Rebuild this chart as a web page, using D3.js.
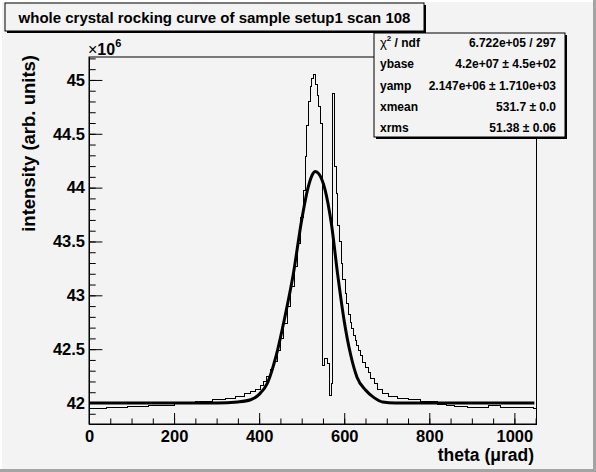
<!DOCTYPE html>
<html>
<head>
<meta charset="utf-8">
<script src="https://cdn.jsdelivr.net/npm/d3@7"></script>
<style>
  html, body { margin: 0; padding: 0; background: #f3f3f3; }
  svg { display: block; }
  text { font-family: "Liberation Sans", Arial, Helvetica, sans-serif; font-weight: bold; fill: #000; }
</style>
</head>
<body>
<div id="chart"></div>
<script>
// histogram of the scan: bin edges (urad) and bin contents (x1e6)
const binEdges = [0, 40, 90, 140, 200, 250, 290, 320, 345, 365, 380, 392, 402, 410, 418, 426, 434, 442,
  450, 458, 466, 474, 482, 490, 498, 504, 508, 512, 516, 520, 524, 528, 532, 536, 540, 544, 549, 553,
  561, 565, 569, 573, 577, 581, 585, 589, 593, 597, 602, 606, 610, 614, 618, 622, 626, 630, 634, 638,
  644, 650, 656, 662, 670, 678, 690, 705, 725, 750, 780, 820, 840, 860, 890, 940, 968, 1045, 1052]
const binValues = [41.951, 41.958, 41.966, 41.978, 41.995, 42.015, 42.03, 42.045, 42.065, 42.085,
  42.105, 42.13, 42.16, 42.2, 42.25, 42.31, 42.39, 42.49, 42.6, 42.74, 42.9, 43.08, 43.27, 43.48,
  43.72, 43.97, 44.29, 44.58, 44.8, 44.94, 45.01, 45.05, 44.96, 44.86, 44.75, 44.6,
  42.35, 42.41, 42.37, 42.07, 42.18, 44.875, 44.2, 43.95, 43.65, 43.5, 43.3, 43.15, 43.02, 42.92,
  42.82, 42.75, 42.69, 42.63, 42.58, 42.53, 42.49, 42.44, 42.38, 42.33, 42.28, 42.23, 42.18, 42.13,
  42.09, 42.065, 42.045, 42.03, 42.012, 41.99, 41.98, 41.97, 41.957, 41.98, 41.957, 41.947]

// fitted curve
const fitX = [0, 300, 350, 380, 400, 420, 440, 460, 480, 500, 515, 525, 532, 540, 555, 570, 585,
  600, 615, 630, 650, 670, 690, 720, 1047]
const fitY = [42.0, 42.0, 42.01, 42.03, 42.08, 42.19, 42.44, 42.79, 43.19, 43.70, 44.0, 44.12, 44.15,
  44.13, 43.98, 43.66, 43.18, 42.76, 42.45, 42.24, 42.12, 42.05, 42.01, 42.0, 42.0]

const xTicks = [0, 200, 400, 600, 800, 1000]
const xMinorTicks = d3.range(0, 1051, 50)
const yTicks = [42, 42.5, 43, 43.5, 44, 44.5, 45]
const yTickLabels = ["42", "42.5", "43", "43.5", "44", "44.5", "45"]
const yMinorTicks = d3.range(41.9, 45.21, 0.1)

const statLabels = ["ndf", "ybase", "yamp", "xmean", "xrms"]
const statValues = ["6.722e+05 / 297", "4.2e+07 \u00b1 4.5e+02", "2.147e+06 \u00b1 1.710e+03",
  "531.7 \u00b1 0.0", "51.38 \u00b1 0.06"]

const titleText = "whole crystal rocking curve of sample setup1 scan 108"

const width = 596
const height = 472
const frame = { left: 89, right: 536.5, top: 57, bottom: 424 }

const svg = d3.select("#chart")
    .append("svg")
    .attr("width", width)
    .attr("height", height)

// canvas with bevel
svg.append("rect").attr("width", width).attr("height", height).attr("fill", "#f3f3f3")
svg.append("rect").attr("x", width - 3).attr("y", 0).attr("width", 3).attr("height", height).attr("fill", "#a4a4a4")
svg.append("rect").attr("x", 0).attr("y", height - 3).attr("width", width).attr("height", 3).attr("fill", "#a4a4a4")
svg.append("rect").attr("x", 0).attr("y", 0).attr("width", 2).attr("height", height - 3).attr("fill", "#ffffff")
svg.append("rect").attr("x", 0).attr("y", 0).attr("width", width - 3).attr("height", 2).attr("fill", "#ffffff")

const x = d3.scaleLinear().domain([0, 1052]).range([frame.left, frame.right])
const y = d3.scaleLinear().domain([41.805, 45.213]).range([frame.bottom, frame.top])

svg.append("clipPath").attr("id", "clip")
  .append("rect")
    .attr("x", frame.left).attr("y", frame.top)
    .attr("width", frame.right - frame.left).attr("height", frame.bottom - frame.top)

const plot = svg.append("g").attr("clip-path", "url(#clip)")

// histogram outline
const histPoints = binValues.map((v, i) => [binEdges[i], v])
histPoints.push([binEdges[binEdges.length - 1], binValues[binValues.length - 1]])

plot.append("path")
    .datum(histPoints)
    .attr("fill", "none")
    .attr("stroke", "#000")
    .attr("stroke-width", 1)
    .attr("shape-rendering", "crispEdges")
    .attr("d", d3.line().x(d => x(d[0])).y(d => y(d[1])).curve(d3.curveStepAfter))

// fit
plot.append("path")
    .datum(fitX.map((v, i) => [v, fitY[i]]))
    .attr("fill", "none")
    .attr("stroke", "#000")
    .attr("stroke-width", 3)
    .attr("d", d3.line().x(d => x(d[0])).y(d => y(d[1])).curve(d3.curveMonotoneX))

// frame
svg.append("rect")
    .attr("x", frame.left).attr("y", frame.top)
    .attr("width", frame.right - frame.left).attr("height", frame.bottom - frame.top)
    .attr("fill", "none")
    .attr("stroke", "#000")
    .attr("stroke-width", 1)

// axes, ticks pointing into the frame
const xAxis = svg.append("g")
    .attr("transform", `translate(0,${frame.bottom})`)
    .call(d3.axisBottom(x).tickValues(xTicks).tickSizeInner(-11).tickSizeOuter(0).tickPadding(6)
      .tickFormat(d3.format("d")))
svg.append("g")
    .attr("transform", `translate(0,${frame.bottom})`)
    .call(d3.axisBottom(x).tickValues(xMinorTicks).tickSizeInner(-5.5).tickSizeOuter(0).tickFormat(""))

const yAxis = svg.append("g")
    .attr("transform", `translate(${frame.left},0)`)
    .call(d3.axisLeft(y).tickValues(yTicks).tickSizeInner(-13.4).tickSizeOuter(0).tickPadding(4)
      .tickFormat((d, i) => yTickLabels[i]))
svg.append("g")
    .attr("transform", `translate(${frame.left},0)`)
    .call(d3.axisLeft(y).tickValues(yMinorTicks).tickSizeInner(-6.7).tickSizeOuter(0).tickFormat(""))

svg.selectAll(".domain").attr("stroke", "#000")
svg.selectAll(".tick line").attr("stroke", "#000")
xAxis.selectAll("text").attr("font-size", 16.5).attr("font-family", null).attr("dy", "0.71em")
yAxis.selectAll("text").attr("font-size", 16.5).attr("font-family", null)

// exponent
const expo = svg.append("text").attr("x", 88).attr("y", 55).attr("font-size", 16).attr("font-weight", "normal")
expo.append("tspan").text("\u00d7").attr("font-weight", "normal")
expo.append("tspan").text("10").attr("font-weight", "bold")
expo.append("tspan").text("6").attr("font-size", 11).attr("dy", -8).attr("font-weight", "bold")

// axis titles
svg.append("text")
    .attr("x", 534).attr("y", 461)
    .attr("text-anchor", "end")
    .attr("font-size", 17.5)
    .text("theta (\u03bcrad)")

svg.append("text")
    .attr("transform", "translate(35,55) rotate(-90)")
    .attr("text-anchor", "end")
    .attr("font-size", 18.5)
    .text("intensity (arb. units)")

// title box
const tb = { x: 5, y: 3, w: 419, h: 28 }
svg.append("rect").attr("x", tb.x + 2).attr("y", tb.y + 2).attr("width", tb.w).attr("height", tb.h).attr("fill", "#000")
svg.append("rect").attr("x", tb.x).attr("y", tb.y).attr("width", tb.w).attr("height", tb.h)
    .attr("fill", "#f3f3f3").attr("stroke", "#000").attr("stroke-width", 1)
svg.append("text")
    .attr("x", tb.x + tb.w / 2).attr("y", 22.5)
    .attr("text-anchor", "middle")
    .attr("font-size", 15)
    .text(titleText)

// stats box
const sb = { x: 374, y: 33, w: 191, h: 104 }
svg.append("rect").attr("x", sb.x + 2).attr("y", sb.y + 2).attr("width", sb.w).attr("height", sb.h).attr("fill", "#000")
svg.append("rect").attr("x", sb.x).attr("y", sb.y).attr("width", sb.w).attr("height", sb.h)
    .attr("fill", "#f3f3f3").attr("stroke", "#000").attr("stroke-width", 1)

const rowY = d3.scaleLinear().domain([0, 4]).range([47, 132])

statLabels.forEach((label, i) => {
  const t = svg.append("text").attr("x", 380).attr("y", rowY(i)).attr("font-size", 12)
  if (i === 0) {
    t.append("tspan").text("\u03c7").attr("font-weight", "normal").attr("font-size", 13)
    t.append("tspan").text("2").attr("font-size", 8).attr("dy", -6)
    t.append("tspan").text(" / " + label).attr("dy", 6)
  } else {
    t.text(label)
  }
  svg.append("text")
      .attr("x", 556).attr("y", rowY(i))
      .attr("text-anchor", "end")
      .attr("font-size", 12)
      .text(statValues[i])
})
</script>
</body>
</html>
